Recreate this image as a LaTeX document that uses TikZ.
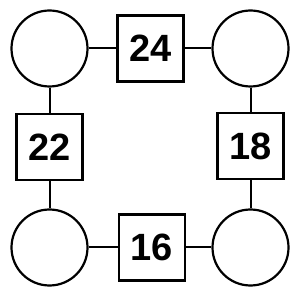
\documentclass[tikz,border=0pt]{standalone}
\usepackage{fontspec}
\setmainfont{Liberation Sans}
\begin{document}
\begin{tikzpicture}[x=1pt,y=1pt,
  circ/.style={circle,draw,line width=2.2pt,minimum size=76pt,inner sep=0pt},
  numbox/.style={rectangle,draw,line width=2.2pt,minimum size=66pt,inner sep=0pt,font=\fontsize{38}{42}\selectfont\bfseries},
  link/.style={line width=2pt}]
\useasboundingbox[fill=white] (0,0) rectangle (300,300);
\node[circ] (tl) at (49.5,251.5) {};
\node[circ] (tr) at (250.5,251.5) {};
\node[circ] (bl) at (49.5,52.5) {};
\node[circ] (br) at (250.5,52.5) {};
\node[numbox] (t) at (150.5,251.5) {24};
\node[numbox] (l) at (49.5,153) {22};
\node[numbox] (r) at (250.5,154) {18};
\node[numbox] (b) at (152,52.5) {16};
\draw[link] (tl) -- (t);
\draw[link] (t) -- (tr);
\draw[link] (tl) -- (l);
\draw[link] (l) -- (bl);
\draw[link] (tr) -- (r);
\draw[link] (r) -- (br);
\draw[link] (bl) -- (b);
\draw[link] (b) -- (br);
\end{tikzpicture}
\end{document}
